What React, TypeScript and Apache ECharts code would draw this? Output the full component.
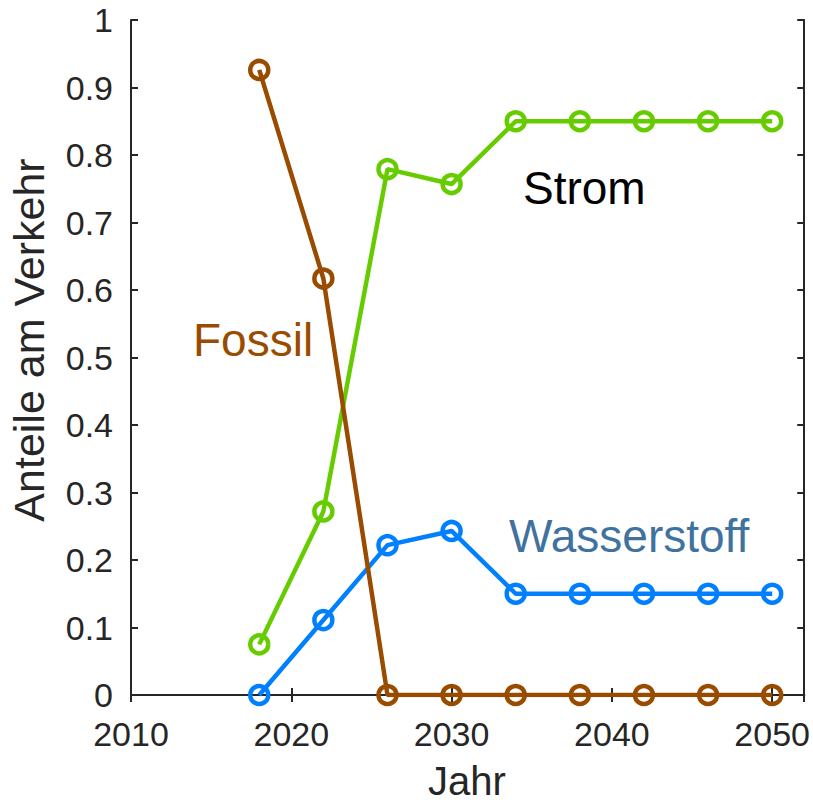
import React, { useEffect, useRef } from 'react';
import * as echarts from 'echarts';

const years = [2018, 2022, 2026, 2030, 2034, 2038, 2042, 2046, 2050];
const fossil = [0.926, 0.617, 0, 0, 0, 0, 0, 0, 0];
const strom = [0.075, 0.272, 0.779, 0.757, 0.85, 0.85, 0.85, 0.85, 0.85];
const wasserstoff = [0, 0.111, 0.222, 0.243, 0.15, 0.15, 0.15, 0.15, 0.15];
const seriesNames = ['Strom', 'Wasserstoff', 'Fossil'];
const seriesColors = ['#66cc00', '#0080ff', '#994c00'];
const labelColors = ['#000000', '#4072a0', '#994c00'];
const xName = 'Jahr';
const yName = 'Anteile am Verkehr';

const FONT = '"Liberation Sans", Arial, Helvetica, sans-serif';
const AX = '#262626';

export default function App() {
  const ref = useRef<HTMLDivElement>(null);
  useEffect(() => {
    if (!ref.current) return;
    const chart = echarts.init(ref.current, undefined, { renderer: 'svg' });
    const values = [strom, wasserstoff, fossil];
    const gridL = 131, gridT = 20, gridW = 675, gridH = 675;
    const axisCommon = {
      axisLine: { show: true, lineStyle: { color: AX, width: 2 } },
      axisTick: { show: true, inside: true, length: 7, lineStyle: { color: AX, width: 2 } },
      splitLine: { show: false },
    };
    const mkSeries = (i: number) => ({
      type: 'line',
      name: seriesNames[i],
      xAxisIndex: 0,
      yAxisIndex: 0,
      data: years.map((y, k) => [y, values[i][k]]),
      symbol: 'circle',
      symbolSize: 18,
      showAllSymbol: true,
      lineStyle: { color: seriesColors[i], width: 4.5 },
      itemStyle: { color: 'rgba(0,0,0,0)', borderColor: seriesColors[i], borderWidth: 4.5 },
      emphasis: { disabled: true },
      z: 2 + i,
    });
    chart.setOption({
      animation: false,
      backgroundColor: '#ffffff',
      grid: { left: gridL, top: gridT, width: gridW, height: gridH, containLabel: false },
      xAxis: [
        {
          type: 'value', min: 2010, max: 2052, interval: 10, position: 'bottom',
          ...axisCommon,
          axisLabel: { show: true, margin: 22, fontSize: 34, color: AX, fontFamily: FONT, showMaxLabel: false, formatter: (v: number) => String(v) },
        },
        {
          type: 'value', min: 2010, max: 2052, interval: 10, position: 'top',
          ...axisCommon,
          axisLabel: { show: false },
        },
      ],
      yAxis: [
        {
          type: 'value', min: 0, max: 1, interval: 0.1, position: 'left',
          ...axisCommon,
          axisLabel: { show: true, margin: 18, fontSize: 34, color: AX, fontFamily: FONT },
        },
        {
          type: 'value', min: 0, max: 1, interval: 0.1, position: 'right',
          ...axisCommon,
          axisLabel: { show: false },
        },
      ],
      series: [mkSeries(0), mkSeries(1), mkSeries(2)],
      graphic: [
        { type: 'text', x: 523, y: 188, style: { text: seriesNames[0], fontSize: 46, fill: labelColors[0], fontFamily: FONT, align: 'left', verticalAlign: 'middle' } },
        { type: 'text', x: 509, y: 536, style: { text: seriesNames[1], fontSize: 46, fill: labelColors[1], fontFamily: FONT, align: 'left', verticalAlign: 'middle' } },
        { type: 'text', x: 193, y: 340, style: { text: seriesNames[2], fontSize: 46, fill: labelColors[2], fontFamily: FONT, align: 'left', verticalAlign: 'middle' } },
        { type: 'text', x: 467, y: 781, style: { text: xName, fontSize: 40, fill: AX, fontFamily: FONT, align: 'center', verticalAlign: 'middle' } },
        { type: 'text', x: 29, y: 340, rotation: Math.PI / 2, style: { text: yName, fontSize: 43, fill: AX, fontFamily: FONT, align: 'center', verticalAlign: 'middle' } },
      ],
    });
    return () => chart.dispose();
  }, []);
  return <div ref={ref} style={{ width: 813, height: 802, position: 'absolute', left: 0, top: 0 }} />;
}
